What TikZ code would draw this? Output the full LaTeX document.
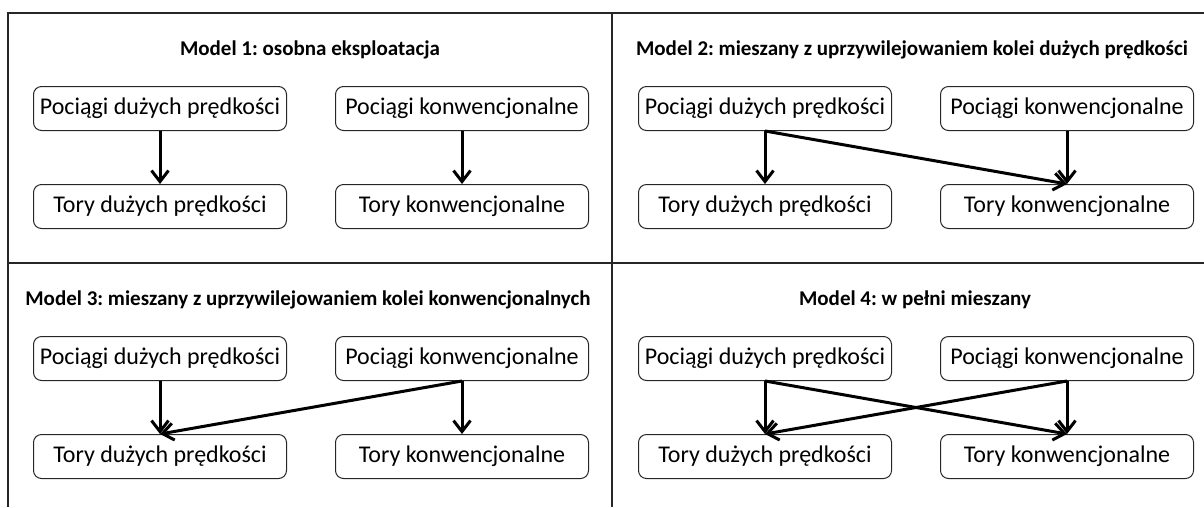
\documentclass[tikz,border=0pt]{standalone}
\usepackage{fontspec}
\setmainfont{Carlito}
\usetikzlibrary{positioning,arrows.meta}
\frenchspacing

\tikzset{
  box/.style={draw=black!85, rounded corners=8pt, line width=1pt,
    minimum width=253pt, minimum height=44pt, inner sep=0pt,
    font=\fontsize{24}{27}\selectfont},
  title/.style={font=\bfseries\fontsize{21}{24}\selectfont},
  link/.style={line width=3pt, -{Straight Barb[length=11pt,width=17pt]}},
  frame/.style={line width=1.6pt, draw=black!85}
}

\begin{document}
\begin{tikzpicture}[x=1pt, y=1pt]
    \useasboundingbox (0,0) rectangle (1204,-507);
    % Frame
    \draw[frame] (1204,-13) -- (8,-13) -- (8,-507);
    \draw[frame] (612,-13) -- (612,-507);
    \draw[frame] (8,-263) -- (1204,-263);
    % Model 1
    \node[title] (t1) at (310,-50) {Model 1: osobna eksploatacja};
    \node[box] (p1a) at (160,-108.5) {Pociągi dużych prędkości};
    \node[box, right=48pt of p1a] (p1b) {Pociągi konwencjonalne};
    \node[box, below=53pt of p1a] (p1c) {Tory dużych prędkości};
    \node[box, below=53pt of p1b] (p1d) {Tory konwencjonalne};
    \draw[link] (p1a.south) -- (p1c.north);
    \draw[link] (p1b.south) -- (p1d.north);
    % Model 2
    \node[title] (t2) at (912,-50) {Model 2: mieszany z uprzywilejowaniem kolei dużych prędkości};
    \node[box] (p2a) at (765,-108.5) {Pociągi dużych prędkości};
    \node[box, right=48pt of p2a] (p2b) {Pociągi konwencjonalne};
    \node[box, below=53pt of p2a] (p2c) {Tory dużych prędkości};
    \node[box, below=53pt of p2b] (p2d) {Tory konwencjonalne};
    \draw[link] (p2a.south) -- (p2c.north);
    \draw[link] (p2b.south) -- (p2d.north);
    \draw[link] (p2a.south) -- (p2d.north);
    % Model 3
    \node[title] (t3) at (308,-300) {Model 3: mieszany z uprzywilejowaniem kolei konwencjonalnych};
    \node[box] (p3a) at (160,-358.5) {Pociągi dużych prędkości};
    \node[box, right=48pt of p3a] (p3b) {Pociągi konwencjonalne};
    \node[box, below=53pt of p3a] (p3c) {Tory dużych prędkości};
    \node[box, below=53pt of p3b] (p3d) {Tory konwencjonalne};
    \draw[link] (p3a.south) -- (p3c.north);
    \draw[link] (p3b.south) -- (p3d.north);
    \draw[link] (p3b.south) -- (p3c.north);
    % Model 4
    \node[title] (t4) at (915,-300) {Model 4: w pełni mieszany};
    \node[box] (p4a) at (765,-358.5) {Pociągi dużych prędkości};
    \node[box, right=48pt of p4a] (p4b) {Pociągi konwencjonalne};
    \node[box, below=53pt of p4a] (p4c) {Tory dużych prędkości};
    \node[box, below=53pt of p4b] (p4d) {Tory konwencjonalne};
    \draw[link] (p4a.south) -- (p4c.north);
    \draw[link] (p4b.south) -- (p4d.north);
    \draw[link] (p4a.south) -- (p4d.north);
    \draw[link] (p4b.south) -- (p4c.north);
\end{tikzpicture}
\end{document}
